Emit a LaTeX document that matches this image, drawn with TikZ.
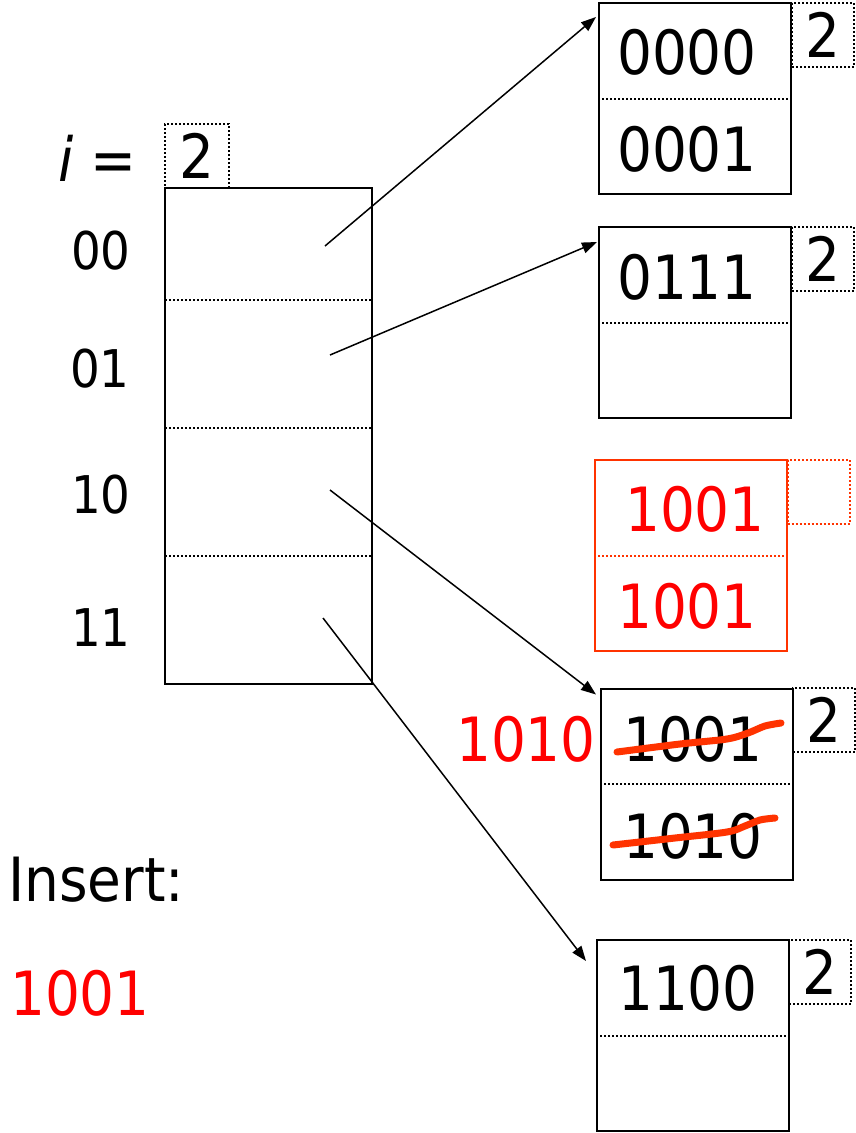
\documentclass[tikz,border=0pt]{standalone}
\usepackage{fontspec}
\setmainfont{DejaVu Sans Condensed}
\usetikzlibrary{arrows.meta, calc}
\definecolor{newred}{RGB}{255,0,0}
\definecolor{boxred}{RGB}{255,51,0}

\tikzset{
  bucket/.style={draw, line width=2pt, minimum width=192pt, minimum height=191pt, inner sep=0pt},
  depthbox/.style={draw, dash pattern=on 2pt off 2pt, line width=2pt, minimum width=62pt, minimum height=64pt, inner sep=0pt, font=\fontsize{61}{61}\selectfont},
  divider/.style={dash pattern=on 2pt off 2pt, line width=2pt},
  key/.style={inner sep=0pt, anchor=west, font=\fontsize{61}{61}\selectfont},
  label/.style={inner sep=0pt, font=\fontsize{52}{52}\selectfont},
  pointer/.style={line width=1.5pt, -{Triangle[length=15pt, width=11pt]}},
  strike/.style={line width=7pt, boxred, line cap=round}
}

\begin{document}
\begin{tikzpicture}[x=1pt, y=-1pt]
            \useasboundingbox (0,0) rectangle (855,1133);

            %directory
            \node[draw, line width=2pt, minimum width=207pt, minimum height=496pt, inner sep=0pt] (dir) at (268.5, 436) {};
            \draw[divider] (165,300) -- (372,300);
            \draw[divider] (165,428) -- (372,428);
            \draw[divider] (165,556) -- (372,556);
            \node[depthbox, minimum width=64pt] (gd) at (197,156) {2};
            \node[inner sep=0pt, anchor=east, font=\fontsize{61}{61}\selectfont] (ieq) at (137,158) {\textit{i} =};
            \node[label] (l00) at (101,251) {00};
            \node[label] (l01) at (100,369) {01};
            \node[label] (l10) at (101,495) {10};
            \node[label] (l11) at (101,628) {11};

            %buckets
            \node[bucket] (b1) at (695,98.5) {};
            \node[bucket] (b2) at (695,322.5) {};
            \node[bucket, boxred] (bn) at (691,555.5) {};
            \node[bucket] (b3) at (697,784) {};
            \node[bucket] (b4) at (693,1035.5) {};
            \draw[divider] (b1.west) -- (b1.east);
            \draw[divider] (b2.west) -- (b2.east);
            \draw[divider, boxred] (bn.west) -- (bn.east);
            \draw[divider] (b3.west) -- (b3.east);
            \draw[divider] (b4.west) -- (b4.east);

            %local depths
            \node[depthbox] (d1) at (823,35) {2};
            \node[depthbox] (d2) at (823,259) {2};
            \node[depthbox, boxred] (dn) at (818.5,491.5) {};
            \node[depthbox] (d3) at (824,720) {2};
            \node[depthbox] (d4) at (820,972) {2};

            %keys
            \node[key] (k1a) at (617,52.5) {0000};
            \node[key] (k1b) at (617,149) {0001};
            \node[key] (k2a) at (617,277) {0111};
            \node[key, newred] (kna) at (625,509) {1001};
            \node[key, newred] (knb) at (617,606) {1001};
            \node[key] (k3a) at (623,739) {1001};
            \node[key] (k3b) at (623,836) {1010};
            \node[key] (k4a) at (618,988) {1100};
            \node[key, newred, anchor=east] (kx) at (596,739) {1010};

            %struck out
            \draw[strike] plot[smooth] coordinates {(617,752) (680,744) (727,739) (748,733) (765,726) (781,723)};
            \draw[strike] plot[smooth] coordinates {(613,845) (675,838) (727,832) (745,826) (760,820) (775,818)};

            %pointers
            \coordinate (p00) at (325,246);
            \coordinate (p01) at (330,355);
            \coordinate (p10) at (330,490);
            \coordinate (p11) at (323,618);
            \draw[pointer] (p00) -- ($(b1.north west)+(-2,15)$);
            \draw[pointer] (p01) -- ($(b2.north west)+(-1,16)$);
            \draw[pointer] (p10) -- ($(b3.north west)+(-4,7)$);
            \draw[pointer] (p11) -- ($(b4.north west)+(-10,22)$);

            %insert
            \node[inner sep=0pt, anchor=west, font=\fontsize{61}{61}\selectfont] (ins) at (8,880) {Insert:};
            \node[inner sep=0pt, anchor=west, newred, font=\fontsize{61}{61}\selectfont] (new) at (10,993) {1001};
        \end{tikzpicture}
\end{document}
